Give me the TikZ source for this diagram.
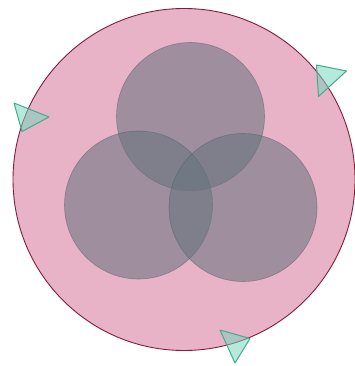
\documentclass[tikz,border=0pt]{standalone}
\begin{document}
\begin{tikzpicture}[x=1pt,y=-1pt,
  big/.style={fill=bigpink,draw=bigedge,line width=0.9pt},
  set/.style={fill=setgray,fill opacity=0.55,draw=setedge,draw opacity=0.5,line width=0.6pt},
  tri/.style={fill=trifill,fill opacity=0.55,draw=triedge,line width=1pt,line join=round}]
\definecolor{bigpink}{RGB}{232,178,199}
\definecolor{bigedge}{RGB}{130,30,60}
\definecolor{setgray}{RGB}{100,115,125}
\definecolor{setedge}{RGB}{80,90,100}
\definecolor{trifill}{RGB}{120,215,190}
\definecolor{triedge}{RGB}{70,170,140}
\useasboundingbox (0,0) rectangle (354,366);
\fill[white] (0,0) rectangle (354,366);
\node[circle,big,minimum size=342pt,inner sep=0pt] (universe) at (184,179.5) {};
\node[circle,set,minimum size=148pt,inner sep=0pt] (a) at (190.5,116.5) {};
\node[circle,set,minimum size=148pt,inner sep=0pt] (b) at (138.5,205) {};
\node[circle,set,minimum size=148pt,inner sep=0pt] (c) at (243,207.5) {};
\draw[tri] (14,103) -- (49,117) -- (22,131.5) -- cycle;
\draw[tri] (316.5,65) -- (346.5,71) -- (318.5,96.5) -- cycle;
\draw[tri] (220,330) -- (250,338.5) -- (235,363) -- cycle;
\end{tikzpicture}
\end{document}
